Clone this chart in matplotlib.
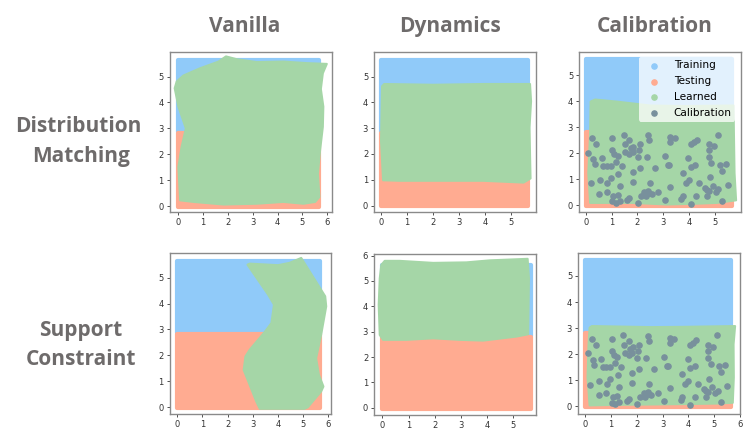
import matplotlib
matplotlib.use('Agg')
import matplotlib.pyplot as plt

W, H = 747, 434

col_titles = ['Vanilla', 'Dynamics', 'Calibration']
row_titles = ['Distribution', 'Matching', 'Support', 'Constraint']
legend_labels = ['Training', 'Testing', 'Learned', 'Calibration']

train_x = [0.0, 5.66, 5.66, 0.0]
train_y = [2.85, 2.85, 5.63, 5.63]
test_x = [0.0, 5.66, 5.66, 0.0]
test_y = [-0.03, -0.03, 2.81, 2.81]

vanilla_dm_x = [-0.15, -0.07, 0.2, 0.87, 1.62, 1.92, 2.36, 3.16, 4.24, 5.18, 5.99, 5.83, 5.75, 5.85, 5.83, 5.72, 5.63, 5.69, 5.52, 5.05, 4.24, 3.16, 1.82, 0.61, 0.07, 0.0, 0.13, 0.3, 0.0]
vanilla_dm_y = [4.55, 4.81, 5.04, 5.32, 5.58, 5.78, 5.67, 5.56, 5.58, 5.52, 5.49, 5.13, 4.52, 3.84, 3.06, 2.16, 1.25, 0.35, 0.16, 0.09, 0.16, 0.09, 0.06, 0.16, 0.22, 1.51, 2.29, 3.0, 3.84]
dynamics_dm_x = [0.04, 0.12, 2.0, 3.93, 5.73, 5.77, 5.71, 5.73, 5.75, 5.48, 3.93, 0.72, 0.08, 0.0]
dynamics_dm_y = [4.62, 4.71, 4.68, 4.71, 4.71, 4.04, 3.02, 2.0, 1.05, 0.89, 0.96, 0.96, 0.98, 2.51]
calib_dm_x = [0.19, 0.36, 1.2, 2.49, 3.78, 5.71, 5.73, 5.75, 5.81, 5.06, 4.29, 3.13, 1.84, 0.17, 0.1, 0.17]
calib_dm_y = [3.99, 4.07, 3.99, 3.84, 3.82, 3.84, 2.52, 1.24, 0.19, 0.09, 0.06, 0.03, 0.09, 0.09, 1.24, 2.77]
vanilla_sc_x = [2.79, 2.88, 4.0, 4.46, 4.92, 5.87, 5.91, 5.71, 5.51, 5.62, 5.8, 5.71, 5.18, 5.05, 3.28, 3.14, 2.64, 2.71, 2.88, 3.47, 3.74, 3.84, 3.61]
vanilla_sc_y = [5.5, 5.54, 5.48, 5.57, 5.76, 4.28, 3.89, 2.8, 1.89, 1.25, 0.8, 0.61, 0.0, -0.06, -0.06, 0.22, 1.44, 1.96, 2.22, 2.9, 3.25, 3.96, 4.34]
dynamics_sc_x = [-0.04, 0.09, 0.66, 1.94, 3.21, 4.11, 5.55, 5.6, 5.57, 5.13, 3.85, 2.96, 1.94, 0.92, 0.03, -0.1, -0.14, -0.1]
dynamics_sc_y = [5.63, 5.79, 5.79, 5.71, 5.73, 5.81, 5.87, 5.1, 2.9, 2.81, 2.65, 2.68, 2.74, 2.68, 2.68, 2.87, 4.06, 5.1]
calib_sc_x = [0.17, 0.26, 2.52, 3.81, 5.81, 5.75, 5.76, 5.72, 5.1, 3.81, 1.23, 0.17, 0.09, 0.13]
calib_sc_y = [3.02, 3.08, 3.04, 3.05, 3.08, 2.38, 1.11, 0.14, 0.11, 0.09, 0.06, 0.04, 1.11, 2.38]

calib_x = [0.09, 0.26, 0.40, 0.30, 0.35, 0.19, 0.61, 0.67, 0.81, 0.97, 1.03, 1.03, 1.10, 1.24, 1.16, 1.40, 1.47, 1.52, 1.69, 1.84,
           1.75, 1.53, 1.68, 1.83, 2.05, 2.09, 2.02, 2.35, 2.42, 2.46, 2.10, 1.82, 1.26, 0.97, 0.84, 1.31, 1.82, 0.54, 0.53, 0.82,
           1.06, 1.24, 1.03, 1.16, 1.31, 1.61, 1.68, 2.02, 2.13, 2.26, 2.31, 2.42, 2.46, 2.55, 2.49, 2.81, 3.05, 2.67, 3.05, 3.16,
           3.20, 3.27, 3.27, 3.45, 3.97, 4.06, 4.19, 4.29, 4.06, 4.24, 4.76, 4.94, 5.12, 4.76, 4.76, 4.86, 5.19, 5.43, 5.28, 3.76,
           3.99, 3.88, 3.27, 4.38, 4.79, 4.91, 5.48, 4.60, 4.70, 4.76, 5.13, 5.04, 4.70, 5.26, 4.27, 3.74, 3.70, 4.05]
calib_y = [2.03, 2.58, 2.35, 1.78, 1.59, 0.84, 1.82, 1.53, 1.53, 1.50, 2.57, 2.12, 1.98, 1.89, 1.68, 1.53, 2.72, 2.35, 2.52, 2.26,
           2.20, 2.06, 1.97, 2.05, 2.11, 2.37, 1.84, 1.87, 2.71, 2.52, 1.43, 1.29, 1.19, 1.05, 0.87, 0.73, 0.91, 0.97, 0.43, 0.52,
           0.35, 0.40, 0.15, 0.08, 0.17, 0.22, 0.29, 0.08, 0.37, 0.51, 0.35, 0.54, 0.47, 0.42, 0.86, 0.52, 0.20, 1.43, 1.91, 1.55,
           1.55, 2.62, 2.43, 2.57, 1.83, 2.37, 2.43, 2.53, 1.47, 1.55, 2.35, 2.29, 2.72, 2.11, 1.87, 1.61, 1.55, 1.59, 1.33, 1.25,
           0.98, 0.87, 0.72, 0.86, 1.07, 0.73, 0.77, 0.66, 0.59, 0.56, 0.61, 0.50, 0.37, 0.17, 0.35, 0.36, 0.23, 0.06]

BLUE = '#90CAF9'
RED = '#FFAB91'
GREEN = '#A5D6A7'
SLATE = '#78909C'
GREY = '#6e6b6b'


def blob(ax, xs, ys, color, lw):
    ax.fill(xs, ys, facecolor=color, edgecolor=color, lw=lw, joinstyle='round')


def draw_panel(box, learned_x, learned_y, xlim, ylim, xticks, yticks, calib=False):
    left, top, right, bottom = box
    ax = fig.add_axes([left / W, 1 - bottom / H, (right - left) / W, (bottom - top) / H])
    blob(ax, train_x, train_y, BLUE, 3)
    blob(ax, test_x, test_y, RED, 3)
    blob(ax, learned_x, learned_y, GREEN, 1.5)
    if calib:
        ax.scatter(calib_x, calib_y, s=14, color=SLATE, zorder=3)
    ax.set_xlim(xlim)
    ax.set_ylim(ylim)
    ax.set_xticks(xticks)
    ax.set_yticks(yticks)
    ax.tick_params(labelsize=6, length=2.2, width=0.6, pad=2, colors='#333333')
    for s in ax.spines.values():
        s.set_color('#8a8a8a')
        s.set_linewidth(1.0)
    return ax


fig = plt.figure(figsize=(W / 100, H / 100), dpi=100)

six = [0, 1, 2, 3, 4, 5, 6]
five = [0, 1, 2, 3, 4, 5]

draw_panel((169.5, 52, 332, 212), vanilla_dm_x, vanilla_dm_y, (-0.36, 6.2), (-0.23, 5.95), six, five)
draw_panel((374, 52, 536, 212), dynamics_dm_x, dynamics_dm_y, (-0.27, 5.96), (-0.25, 5.95), five, five)
ax3 = draw_panel((579, 52, 741, 212), calib_dm_x, calib_dm_y, (-0.26, 6.0), (-0.26, 5.9), five, five, calib=True)
draw_panel((169.5, 253, 331, 414), vanilla_sc_x, vanilla_sc_y, (-0.30, 6.1), (-0.26, 5.95), six, five)
draw_panel((374, 254, 536, 415), dynamics_sc_x, dynamics_sc_y, (-0.32, 5.87), (-0.28, 6.06), five, six)
draw_panel((578, 253, 740, 414), calib_sc_x, calib_sc_y, (-0.28, 6.0), (-0.29, 5.88), six, five, calib=True)

handles = [ax3.scatter([], [], s=14, color=c) for c in [BLUE, RED, GREEN, SLATE]]
leg = ax3.legend(handles, legend_labels, loc='upper right', fontsize=7.6, framealpha=0.75,
                 bbox_to_anchor=(0.965, 0.97), borderaxespad=0, labelspacing=0.55,
                 handletextpad=0.9, borderpad=0.35)
leg.get_frame().set_edgecolor('none')

for name, x in zip(col_titles, [245, 450, 655]):
    fig.text(x / W, 1 - 32 / H, name, ha='center', va='baseline', fontsize=15,
             fontweight='bold', color=GREY, family='Open Sans')
for name, x, y in zip(row_titles, [78, 81, 81, 81], [132, 162, 336, 365]):
    fig.text(x / W, 1 - y / H, name, ha='center', va='baseline', fontsize=15,
             fontweight='bold', color=GREY, family='Open Sans')

fig.savefig('out.png', dpi=100)
